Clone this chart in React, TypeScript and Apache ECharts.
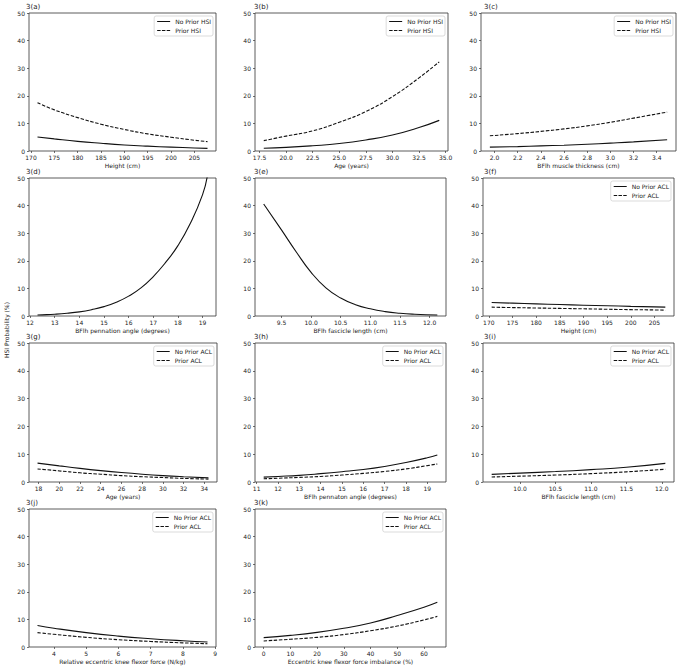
import React, { useEffect, useRef } from "react";
import * as echarts from "echarts";

// ---------- data ----------
// 3(a) Height vs HSI probability
const heightX = [171.4, 175, 180, 185, 190, 195, 200, 205, 207.8];
const heightNoPriorHsi = [5.1, 4.4, 3.5, 2.8, 2.2, 1.75, 1.4, 1.1, 0.95];
const heightPriorHsi = [17.5, 14.9, 12.1, 9.7, 7.8, 6.2, 5.0, 3.9, 3.4];
const heightTicks = [170, 175, 180, 185, 190, 195, 200, 205];

// 3(b) Age
const ageX = [17.9, 20, 22.5, 25, 27.5, 30, 32.5, 34.4];
const ageNoPriorHsi = [1.0, 1.3, 1.9, 2.7, 4.0, 5.8, 8.5, 11.1];
const agePriorHsi = [3.75, 5.4, 7.3, 10.4, 14.3, 19.7, 26.5, 32.3];
const ageTicks = [17.5, 20, 22.5, 25, 27.5, 30, 32.5, 35];

// 3(c) BFlh muscle thickness
const thicknessX = [1.96, 2.2, 2.4, 2.6, 2.8, 3.0, 3.2, 3.49];
const thicknessNoPriorHsi = [1.4, 1.6, 1.85, 2.1, 2.45, 2.85, 3.3, 4.1];
const thicknessPriorHsi = [5.5, 6.3, 7.1, 8.0, 9.1, 10.4, 11.9, 14.1];
const thicknessTicks = [2.0, 2.2, 2.4, 2.6, 2.8, 3.0, 3.2, 3.4];

// 3(d) BFlh pennation angle
const pennationX = [12.3, 12.5, 13, 13.5, 14, 14.5, 15, 15.5, 16, 16.5, 17, 17.5, 18, 18.5, 19, 19.2];
const pennationHsi = [0.35, 0.42, 0.65, 1.0, 1.5, 2.3, 3.4, 5.0, 7.2, 10.2, 14.3, 19.4, 25.5, 33.5, 44, 51];
const pennationTicks = [12, 13, 14, 15, 16, 17, 18, 19];

// 3(e) BFlh fascicle length
const fascicleX = [9.2, 9.5, 9.75, 10.0, 10.25, 10.5, 10.75, 11.0, 11.25, 11.5, 11.75, 12.13];
const fascicleHsi = [40.6, 31.2, 23.2, 15.8, 10.2, 6.5, 4.1, 2.6, 1.6, 1.0, 0.65, 0.35];
const fascicleTicks = [9.5, 10.0, 10.5, 11.0, 11.5, 12.0];

// 3(f) Height (ACL)
const heightAclX = [170.6, 175, 180, 185, 190, 195, 200, 205, 207.3];
const heightNoPriorAcl = [4.9, 4.65, 4.4, 4.15, 3.9, 3.7, 3.5, 3.3, 3.2];
const heightPriorAcl = [3.2, 3.05, 2.9, 2.75, 2.6, 2.45, 2.3, 2.2, 2.1];

// 3(g) Age (ACL)
const ageAclX = [17.9, 20, 22, 24, 26, 28, 30, 32, 34.4];
const ageNoPriorAcl = [6.8, 5.8, 4.9, 4.1, 3.4, 2.8, 2.3, 1.9, 1.5];
const agePriorAcl = [4.7, 4.0, 3.3, 2.8, 2.3, 1.9, 1.6, 1.3, 1.05];
const ageAclTicks = [18, 20, 22, 24, 26, 28, 30, 32, 34];

// 3(h) BFlh pennation angle (ACL)
const pennationAclX = [11.33, 12, 13, 14, 15, 16, 17, 18, 19, 19.47];
const pennationNoPriorAcl = [1.75, 2.0, 2.4, 3.0, 3.7, 4.5, 5.6, 7.0, 8.7, 9.7];
const pennationPriorAcl = [1.15, 1.35, 1.65, 2.0, 2.5, 3.1, 3.8, 4.7, 5.9, 6.5];
const pennationAclTicks = [11, 12, 13, 14, 15, 16, 17, 18, 19];

// 3(i) BFlh fascicle length (ACL)
const fascicleAclX = [9.6, 10, 10.5, 11, 11.5, 12.05];
const fascicleNoPriorAcl = [2.75, 3.2, 3.75, 4.45, 5.3, 6.7];
const fasciclePriorAcl = [1.8, 2.1, 2.5, 3.0, 3.65, 4.6];
const fascicleAclTicks = [10.0, 10.5, 11.0, 11.5, 12.0];

// 3(j) Relative eccentric knee flexor force
const forceX = [3.49, 4, 5, 6, 7, 8, 8.76];
const forceNoPriorAcl = [7.8, 6.8, 5.2, 3.95, 3.0, 2.25, 1.8];
const forcePriorAcl = [5.2, 4.6, 3.5, 2.65, 2.0, 1.5, 1.2];
const forceTicks = [4, 5, 6, 7, 8, 9];

// 3(k) Eccentric knee flexor force imbalance
const imbalanceX = [0, 10, 20, 30, 40, 50, 60, 65];
const imbalanceNoPriorAcl = [3.4, 4.2, 5.3, 6.8, 8.7, 11.4, 14.4, 16.2];
const imbalancePriorAcl = [2.2, 2.8, 3.5, 4.5, 5.9, 7.6, 9.8, 11.1];
const imbalanceTicks = [0, 10, 20, 30, 40, 50, 60];

const yTicks = [0, 10, 20, 30, 40, 50];

type Line = { name: string; y: number[]; dashed: boolean };
type Panel = { title: string; xName: string; x: number[]; lines: Line[]; ticks: number[]; decimals: number; legend: boolean };

const panels: Panel[] = [
  { title: "3(a)", xName: "Height (cm)", x: heightX, ticks: heightTicks, decimals: 0, legend: true,
    lines: [{ name: "No Prior HSI", y: heightNoPriorHsi, dashed: false }, { name: "Prior HSI", y: heightPriorHsi, dashed: true }] },
  { title: "3(b)", xName: "Age (years)", x: ageX, ticks: ageTicks, decimals: 1, legend: true,
    lines: [{ name: "No Prior HSI", y: ageNoPriorHsi, dashed: false }, { name: "Prior HSI", y: agePriorHsi, dashed: true }] },
  { title: "3(c)", xName: "BFlh muscle thickness (cm)", x: thicknessX, ticks: thicknessTicks, decimals: 1, legend: true,
    lines: [{ name: "No Prior HSI", y: thicknessNoPriorHsi, dashed: false }, { name: "Prior HSI", y: thicknessPriorHsi, dashed: true }] },
  { title: "3(d)", xName: "BFlh pennation angle (degrees)", x: pennationX, ticks: pennationTicks, decimals: 0, legend: false,
    lines: [{ name: "Pennation angle", y: pennationHsi, dashed: false }] },
  { title: "3(e)", xName: "BFlh fascicle length (cm)", x: fascicleX, ticks: fascicleTicks, decimals: 1, legend: false,
    lines: [{ name: "Fascicle length", y: fascicleHsi, dashed: false }] },
  { title: "3(f)", xName: "Height (cm)", x: heightAclX, ticks: heightTicks, decimals: 0, legend: true,
    lines: [{ name: "No Prior ACL", y: heightNoPriorAcl, dashed: false }, { name: "Prior ACL", y: heightPriorAcl, dashed: true }] },
  { title: "3(g)", xName: "Age (years)", x: ageAclX, ticks: ageAclTicks, decimals: 0, legend: true,
    lines: [{ name: "No Prior ACL", y: ageNoPriorAcl, dashed: false }, { name: "Prior ACL", y: agePriorAcl, dashed: true }] },
  { title: "3(h)", xName: "BFlh pennaton angle (degrees)", x: pennationAclX, ticks: pennationAclTicks, decimals: 0, legend: true,
    lines: [{ name: "No Prior ACL", y: pennationNoPriorAcl, dashed: false }, { name: "Prior ACL", y: pennationPriorAcl, dashed: true }] },
  { title: "3(i)", xName: "BFlh fascicle length (cm)", x: fascicleAclX, ticks: fascicleAclTicks, decimals: 1, legend: true,
    lines: [{ name: "No Prior ACL", y: fascicleNoPriorAcl, dashed: false }, { name: "Prior ACL", y: fasciclePriorAcl, dashed: true }] },
  { title: "3(j)", xName: "Relative eccentric knee flexor force (N/kg)", x: forceX, ticks: forceTicks, decimals: 0, legend: true,
    lines: [{ name: "No Prior ACL", y: forceNoPriorAcl, dashed: false }, { name: "Prior ACL", y: forcePriorAcl, dashed: true }] },
  { title: "3(k)", xName: "Eccentric knee flexor force imbalance (%)", x: imbalanceX, ticks: imbalanceTicks, decimals: 0, legend: true,
    lines: [{ name: "No Prior ACL", y: imbalanceNoPriorAcl, dashed: false }, { name: "Prior ACL", y: imbalancePriorAcl, dashed: true }] },
];

// ---------- layout ----------
const W = 680;
const H = 669;
const FONT = "DejaVu Sans";
const TEXT = "#222";
const AXIS = "#333";
const LINE = "#111";
const SOLID_ICON = "path://M0,0h15v1.2h-15z";
const DASH_ICON = "path://M0,0h4v1.2h-4z M5.5,0h4v1.2h-4z M11,0h4v1.2h-4z";

const gridBoxes: [number, number, number, number][] = [
  [29, 13, 187, 138],
  [255, 13, 193, 138],
  [481, 13, 195, 138],
  [29, 178, 187, 138],
  [255, 178, 191, 138],
  [483, 178, 191, 138],
  [29, 343, 188, 139],
  [255, 343, 191, 139],
  [483, 343, 191, 139],
  [29, 509, 187, 138],
  [255, 509, 191, 138],
];
const titleX = [26, 254, 484, 26, 254, 484, 26, 254, 484, 26, 254];

function buildOption() {
  const grid = gridBoxes.map(([l, t, w, h]) => ({
    left: l, top: t, width: w, height: h,
    show: true, borderColor: AXIS, borderWidth: 0.8, backgroundColor: "transparent",
  }));

  const xAxis = panels.map((p, i) => {
    const lo = Math.min(...p.x);
    const hi = Math.max(...p.x);
    const pad = (hi - lo) * 0.05;
    return {
      type: "value", gridIndex: i, min: lo - pad, max: hi + pad,
      name: p.xName, nameLocation: "middle", nameGap: 11.5,
      nameTextStyle: { fontSize: 6, fontFamily: FONT, color: TEXT },
      axisLine: { show: false, onZero: false },
      splitLine: { show: false },
      axisTick: { show: true, length: 2, lineStyle: { color: AXIS, width: 0.7 }, customValues: p.ticks },
      axisLabel: {
        customValues: p.ticks, fontSize: 6, margin: 3.5, fontFamily: FONT, color: TEXT,
        formatter: (v: number) => v.toFixed(p.decimals),
      },
    };
  });

  const yAxis = panels.map((_, i) => ({
    type: "value", gridIndex: i, min: 0, max: 50, interval: 10,
    axisLine: { show: false, onZero: false },
    splitLine: { show: false },
    axisTick: { show: true, length: 2, lineStyle: { color: AXIS, width: 0.7 }, customValues: yTicks },
    axisLabel: { customValues: yTicks, fontSize: 6, margin: 4, fontFamily: FONT, color: TEXT },
  }));

  const series: any[] = [];
  panels.forEach((p, i) => {
    p.lines.forEach((ln) => {
      series.push({
        type: "line", name: ln.name, xAxisIndex: i, yAxisIndex: i,
        data: p.x.map((xv, k) => [xv, ln.y[k]]),
        symbol: "none", showSymbol: false, smooth: 0.5, clip: true, silent: true,
        lineStyle: { color: LINE, width: 1.1, type: ln.dashed ? [3.5, 1.6] : "solid" },
        itemStyle: { color: LINE },
      });
    });
  });

  const legend: any[] = [];
  panels.forEach((p, i) => {
    if (!p.legend) return;
    const [l, t, w] = gridBoxes[i];
    legend.push({
      orient: "vertical", right: W - (l + w - 3), top: t + 3,
      data: p.lines.map((ln) => ({
        name: ln.name,
        icon: ln.dashed ? DASH_ICON : SOLID_ICON,
        itemStyle: { color: LINE, borderWidth: 0 },
      })),
      itemWidth: 13, itemHeight: 1.2, itemGap: 3, padding: [2.5, 2, 2.5, 3],
      borderColor: "#ccc", borderWidth: 0.7, borderRadius: 2, backgroundColor: "#fff",
      selectedMode: false,
      textStyle: { fontSize: 6, fontFamily: FONT, color: TEXT },
    });
  });

  const title = panels.map((p, i) => ({
    text: p.title, left: titleX[i], top: gridBoxes[i][1] - 10, padding: 0,
    textStyle: { fontSize: 7, fontWeight: "normal", fontFamily: FONT, color: TEXT },
  }));

  return {
    animation: false,
    backgroundColor: "#fff",
    textStyle: { fontFamily: FONT },
    title, grid, xAxis, yAxis, series, legend,
    graphic: [
      {
        type: "text", x: 6, y: 330, rotation: Math.PI / 2,
        style: { text: "HSI Probability (%)", fontSize: 6, fontFamily: FONT, fill: TEXT, align: "center", verticalAlign: "middle" },
      },
    ],
  };
}

export default function App() {
  const ref = useRef<HTMLDivElement>(null);
  useEffect(() => {
    document.body.style.margin = "0";
    if (!ref.current) return;
    const chart = echarts.init(ref.current, undefined, { renderer: "svg", width: W, height: H });
    chart.setOption(buildOption() as any);
    return () => chart.dispose();
  }, []);
  return <div ref={ref} style={{ width: W, height: H }} />;
}
